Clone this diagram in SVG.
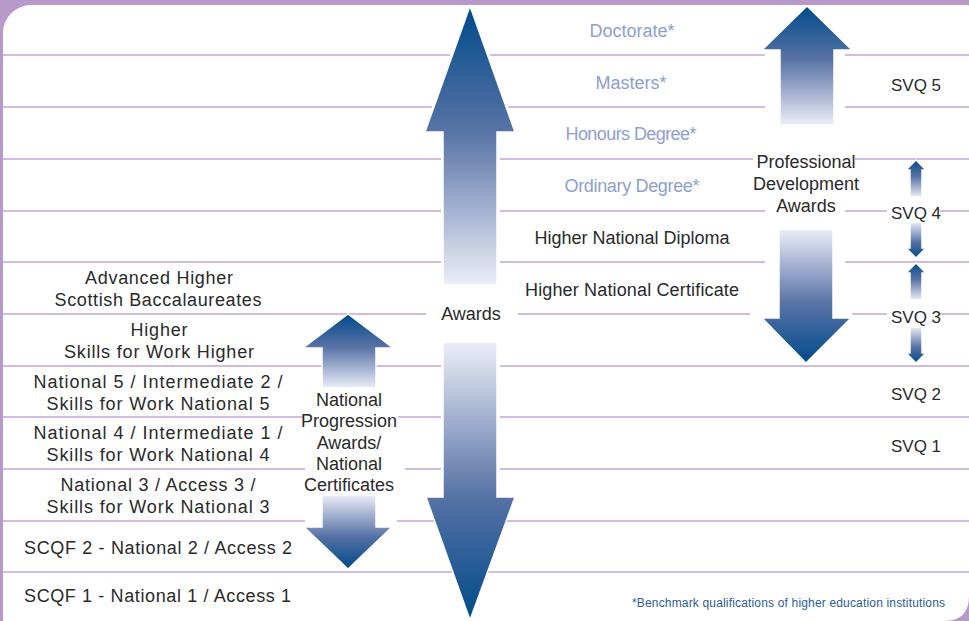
<svg xmlns="http://www.w3.org/2000/svg" width="969" height="621" viewBox="0 0 969 621">
<defs>
<linearGradient id="gUp" x1="0" y1="0" x2="0" y2="1">
<stop offset="0" stop-color="#004a8a"/>
<stop offset="0.45" stop-color="#5873a6"/>
<stop offset="1" stop-color="#eceef8"/>
</linearGradient>
<linearGradient id="gDown" x1="0" y1="1" x2="0" y2="0">
<stop offset="0" stop-color="#004a8a"/>
<stop offset="0.45" stop-color="#5873a6"/>
<stop offset="1" stop-color="#eceef8"/>
</linearGradient>
<style>
.ln{stroke:#c4a5d6;stroke-width:1.6;fill:none}
.up{fill:url(#gUp);stroke:#ffffff;stroke-width:1.5}
.dn{fill:url(#gDown);stroke:#ffffff;stroke-width:1.5}
text{font-family:"Liberation Sans",Arial,sans-serif;font-size:18px;fill:#2a2a2a}
.c{text-anchor:middle}
.lt{fill:#8e9ecf}
.sv{font-size:17px}
.fn{font-size:12px;fill:#2e5d99}
</style>
</defs>
<rect x="0" y="0" width="969" height="621" fill="#b999c9"/>
<rect x="3" y="5" width="990" height="640" rx="28" fill="#ffffff"/>
<path d="M969 596 Q969 621 944 621 L969 621 Z" fill="#b999c9"/>
<g id="connectors">
<path class="ln" d="M3 55H450M490 55H765M845 55H969"/>
<path class="ln" d="M3 107H432M508 107H765M845 107H969"/>
<path class="ln" d="M3 159H441M500 159H753M855 159H969"/>
<path class="ln" d="M3 211H441M500 211H765M845 211H887M940 211H969"/>
<path class="ln" d="M3 262H441M500 262H765M845 262H969"/>
<path class="ln" d="M3 314H426M518 314H750M852 314H887M940 314H969"/>
<path class="ln" d="M3 366H322M376 366H441M500 366H969"/>
<path class="ln" d="M3 417H303M398 417H441M500 417H969"/>
<path class="ln" d="M3 469H305M405 469H441M500 469H969"/>
<path class="ln" d="M3 521H305M397 521H441M500 521H969"/>
<path class="ln" d="M3 572H452M488 572H969"/>
</g>
<g id="awards">
<polygon class="up" points="470,6 515,132 497,132 497,285 443,285 443,132 425,132"/>
<polygon class="dn" points="443,342 497,342 497,497 515,497 470,620 426,497 443,497"/>
<text class="c" x="471" y="320">Awards</text>
</g>
<g id="pda">
<polygon class="up" points="807,6 852,50 834,50 834,125 780,125 780,50 762,50"/>
<polygon class="dn" points="779,229 833,229 833,318 851,318 806,363 762,318 779,318"/>
<text class="c" x="806" y="168">Professional</text>
<text class="c" x="806" y="190">Development</text>
<text class="c" x="806" y="212">Awards</text>
</g>
<g id="npa">
<polygon class="up" points="348,314 393,348 376,348 376,388 322,388 322,348 303,348"/>
<polygon class="dn" points="322,495 376,495 376,527 392,527 348,569 304,527 322,527"/>
<text class="c" x="349" y="406">National</text>
<text class="c" x="349" y="427">Progression</text>
<text class="c" x="349" y="449">Awards/</text>
<text class="c" x="349" y="470">National</text>
<text class="c" x="349" y="491">Certificates</text>
</g>
<g id="svq">
<polygon class="up" points="916,160 926,170 922,170 922,197 910,197 910,170 906,170"/>
<polygon class="dn" points="910,222 922,222 922,248 926,248 916,258 906,248 910,248"/>
<polygon class="up" points="916,263 926,273 922,273 922,300 910,300 910,273 906,273"/>
<polygon class="dn" points="910,327 922,327 922,353 926,353 916,363 906,353 910,353"/>
<text class="c sv" x="916" y="91">SVQ 5</text>
<text class="c sv" x="916" y="219">SVQ 4</text>
<text class="c sv" x="916" y="323">SVQ 3</text>
<text class="c sv" x="916" y="400">SVQ 2</text>
<text class="c sv" x="916" y="452">SVQ 1</text>
</g>
<g id="higher-ed">
<text class="c lt" x="632" y="37">Doctorate*</text>
<text class="c lt" x="631" y="89">Masters*</text>
<text class="c lt" x="631" y="140" textLength="131">Honours Degree*</text>
<text class="c lt" x="632" y="192" textLength="135">Ordinary Degree*</text>
<text class="c" x="632" y="244">Higher National Diploma</text>
<text class="c" x="632" y="296" textLength="214">Higher National Certificate</text>
</g>
<g id="school">
<text class="c" x="159" y="284" textLength="148">Advanced Higher</text>
<text class="c" x="158" y="306" textLength="207">Scottish Baccalaureates</text>
<text class="c" x="159" y="336" textLength="57">Higher</text>
<text class="c" x="159" y="358" textLength="190">Skills for Work Higher</text>
<text class="c" x="158" y="388" textLength="249">National 5 / Intermediate 2 /</text>
<text class="c" x="158" y="410" textLength="223">Skills for Work National 5</text>
<text class="c" x="158" y="439" textLength="249">National 4 / Intermediate 1 /</text>
<text class="c" x="158" y="461" textLength="223">Skills for Work National 4</text>
<text class="c" x="158" y="491" textLength="195">National 3 / Access 3 /</text>
<text class="c" x="158" y="513" textLength="223">Skills for Work National 3</text>
<text x="24" y="554" textLength="268">SCQF 2 - National 2 / Access 2</text>
<text x="24" y="602" textLength="267">SCQF 1 - National 1 / Access 1</text>
</g>
<g id="footnote">
<text class="fn" x="632" y="607" textLength="313">*Benchmark qualifications of higher education institutions</text>
</g>
</svg>
